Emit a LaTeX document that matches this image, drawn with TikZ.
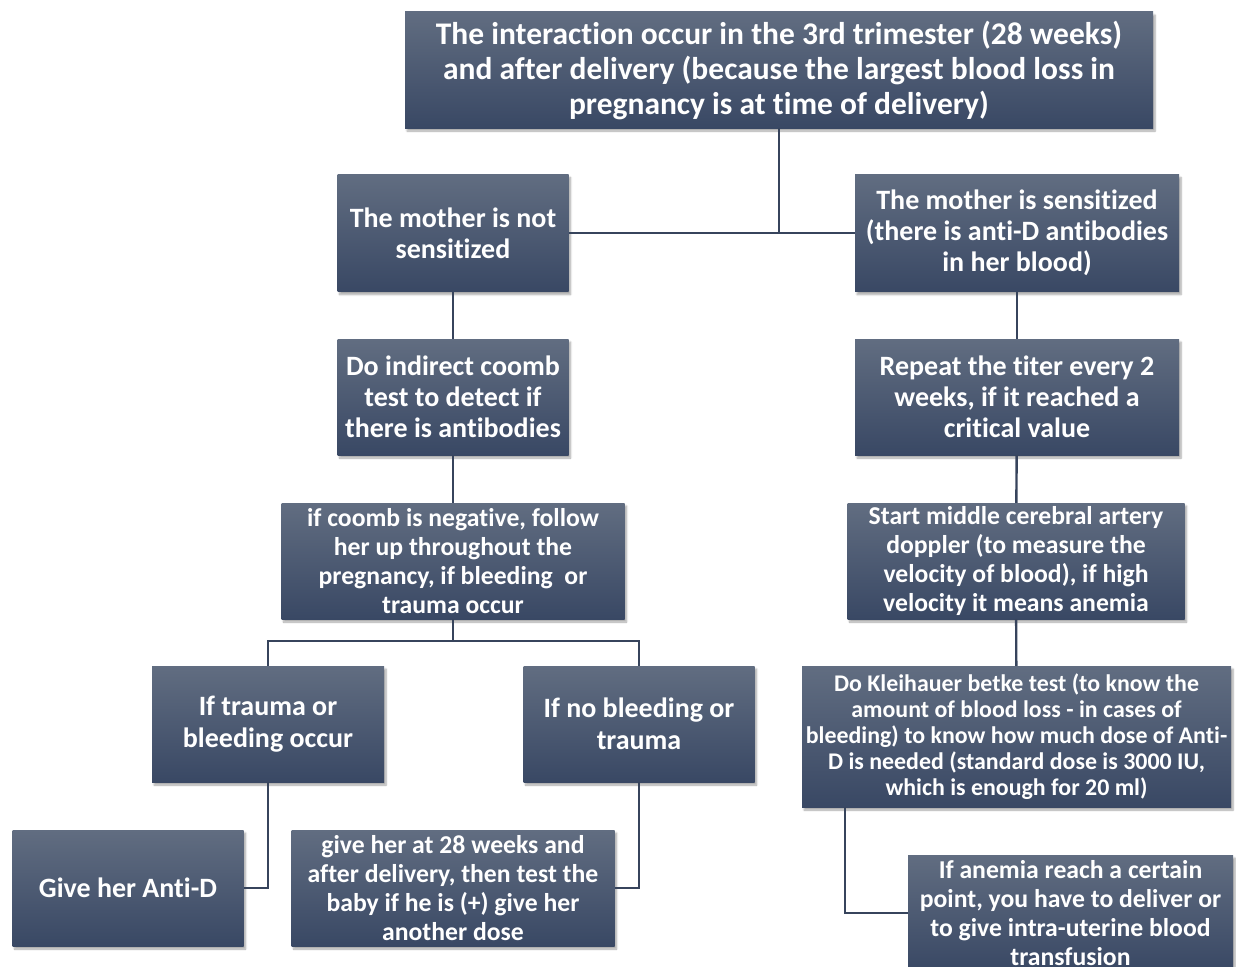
\documentclass[tikz,border=0pt]{standalone}
\usepackage{fontspec}
\setmainfont{Carlito}[Ligatures={NoCommon}]
\usepackage{tikz}
\usetikzlibrary{calc}
\usetikzlibrary{shadows.blur}
\definecolor{slatetop}{RGB}{97, 109, 129}
\definecolor{slatebot}{RGB}{57, 72, 100}
\definecolor{linkline}{RGB}{55, 68, 92}

\tikzset{
    flowbox/.style={draw=none, top color=slatetop, bottom color=slatebot,
        text=white, align=center, inner sep=0pt,
        blur shadow={shadow xshift=2pt, shadow yshift=-3pt, shadow opacity=35, shadow blur steps=6}},
    link/.style={draw=linkline, line width=2.4pt}
}

\begin{document}
\begin{tikzpicture}[x=1pt, y=-1pt]
            \useasboundingbox (0, 0) rectangle (1236, 966);
            \clip (0, 0) rectangle (1236, 966);
            % Top
            \node[flowbox, minimum width=748, minimum height=116, font=\bfseries\fontsize{31.5}{35}\selectfont]
                (top) at (779, 70) {The interaction occur in the 3rd trimester (28 weeks)\\and after delivery (because the largest blood loss in\\pregnancy is at time of delivery)};
            % Left branch
            \node[flowbox, minimum width=231, minimum height=117, font=\bfseries\fontsize{28}{31}\selectfont]
                (notsens) at (453, 233) {The mother is not\\sensitized};
            \node[flowbox, minimum width=231, minimum height=116, font=\bfseries\fontsize{28}{31}\selectfont]
                (coomb) at (453, 397) {Do indirect coomb\\test to detect if\\there is antibodies};
            \node[flowbox, minimum width=343, minimum height=116, font=\bfseries\fontsize{25.7}{29}\selectfont]
                (coombneg) at (453, 561) {if coomb is negative, follow\\her up throughout the\\pregnancy, if bleeding\ \ or\\trauma occur};
            \node[flowbox, minimum width=232, minimum height=116, font=\bfseries\fontsize{28}{32}\selectfont]
                (trauma) at (268, 724) {If trauma or\\bleeding occur};
            \node[flowbox, minimum width=231, minimum height=116, font=\bfseries\fontsize{28}{32}\selectfont]
                (nobleed) at (639, 724) {If no bleeding or\\trauma};
            \node[flowbox, minimum width=231, minimum height=116, font=\bfseries\fontsize{28}{32}\selectfont]
                (antid) at (128, 888) {Give her Anti-D};
            \node[flowbox, minimum width=323, minimum height=116, font=\bfseries\fontsize{25.7}{29}\selectfont]
                (giveher) at (453, 888) {give her at 28 weeks and\\after delivery, then test the\\baby if he is (+) give her\\another dose};
            % Right branch
            \node[flowbox, minimum width=324, minimum height=117, font=\bfseries\fontsize{28}{31}\selectfont]
                (sens) at (1017, 233) {The mother is sensitized\\(there is anti-D antibodies\\in her blood)};
            \node[flowbox, minimum width=324, minimum height=116, font=\bfseries\fontsize{28}{31}\selectfont]
                (titer) at (1017, 397) {Repeat the titer every 2\\weeks, if it reached a\\critical value};
            \node[flowbox, minimum width=337, minimum height=116, font=\bfseries\fontsize{25.7}{29}\selectfont]
                (doppler) at (1016, 561) {Start middle cerebral artery\\doppler (to measure the\\velocity of blood), if high\\velocity it means anemia};
            \node[flowbox, minimum width=429, minimum height=141, font=\bfseries\fontsize{23.9}{26}\selectfont]
                (kleih) at (1016.5, 736.5) {Do Kleihauer betke test (to know the\\amount of blood loss - in cases of\\bleeding) to know how much dose of Anti-\\D is needed (standard dose is 3000 IU,\\which is enough for 20 ml)};
            \node[flowbox, minimum width=325, minimum height=116, font=\bfseries\fontsize{25.7}{29}\selectfont]
                (anemia) at (1070.5, 913) {If anemia reach a certain\\point, you have to deliver or\\to give intra-uterine blood\\transfusion};
            % Connectors
            \coordinate (split) at (453, 641);
            \draw[link] (top.south) |- (notsens.east);
            \draw[link] (notsens.east) -- (sens.west);
            \draw[link] (notsens) -- (coomb);
            \draw[link] (coomb) -- (coombneg);
            \draw[link] (coombneg.south) -- (split) -| (trauma.north);
            \draw[link] (split) -| (nobleed.north);
            \draw[link] (trauma.south) |- (antid.east);
            \draw[link] (nobleed.south) |- (giveher.east);
            \draw[link] (sens) -- (titer);
            \draw[link] (titer) -- (doppler);
            \draw[link] (doppler) -- (kleih);
            \draw[link] ($(kleih.south west)!0.1!(kleih.south east)$) |- (anemia.west);
\end{tikzpicture}
\end{document}
